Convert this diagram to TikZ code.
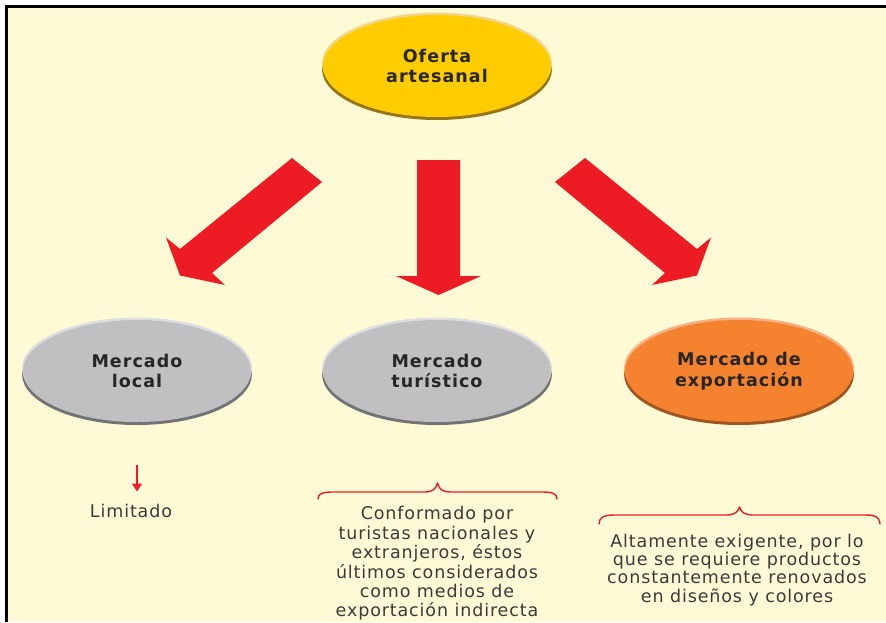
\documentclass[tikz,border=0pt]{standalone}
\usepackage{fontspec}
\setmainfont{DejaVu Sans}
\newfontfamily\lblfont{DejaVu Sans}[LetterSpace=5]
\newfontfamily\hdfont{DejaVu Sans}[LetterSpace=6]
\usetikzlibrary{shapes.geometric,arrows.meta}
\definecolor{cream}{RGB}{255,250,214}
\definecolor{arrowred}{RGB}{237,28,36}
\definecolor{gold}{RGB}{255,204,0}
\definecolor{goldhi}{RGB}{240,214,140}
\definecolor{goldlo}{RGB}{150,118,20}
\definecolor{greyfill}{RGB}{192,192,194}
\definecolor{greyhi}{RGB}{222,222,224}
\definecolor{greylo}{RGB}{115,115,118}
\definecolor{orangefill}{RGB}{245,130,47}
\definecolor{orangehi}{RGB}{248,176,130}
\definecolor{orangelo}{RGB}{160,84,32}
\definecolor{txtdark}{RGB}{38,38,38}
\definecolor{txtgrey}{RGB}{58,58,58}
\tikzset{
  bubble/.style={ellipse, minimum width=228pt, minimum height=102pt, inner sep=0pt,
    align=center, text=txtdark, font=\hdfont\bfseries\fontsize{17.5}{20.5}\selectfont},
  bodytext/.style={align=center, text=txtgrey, inner sep=0pt},
  bigarrow/.style={fill=arrowred},
  bracestyle/.style={draw=arrowred, line width=1.4pt, line cap=round, line join=round},
  smallarrow/.style={draw=arrowred, line width=1.3pt, -{Triangle[width=10pt,length=8pt]}}
}
\newcommand{\discrim}[4]{% x y hi lo
  \fill[#4] (#1,#2+3) ellipse [x radius=115, y radius=51];
  \fill[#3] (#1,#2-2.5) ellipse [x radius=115, y radius=51];
}
\begin{document}
\begin{tikzpicture}[x=1pt,y=-1pt]
\useasboundingbox (0,0) rectangle (886,622);
\fill[white] (0,0) rectangle (886,622);
\fill[cream] (6,6) rectangle (886,622);
\draw[line width=2.3pt] (6.6,622) -- (6.6,6.6) -- (886,6.6);

% discs
\discrim{437}{66}{goldhi}{goldlo}
\node[bubble, fill=gold] (oferta) at (437,66) {Oferta\\artesanal};

\discrim{137}{371}{greyhi}{greylo}
\node[bubble, fill=greyfill] (local) at (137,371) {Mercado\\local};

\discrim{437}{371}{greyhi}{greylo}
\node[bubble, fill=greyfill] (turistico) at (437,371) {Mercado\\turístico};

\discrim{739}{371}{orangehi}{orangelo}
\node[bubble, fill=orangefill] (export) at (739,371) {Mercado de\\exportación};

% big arrows
\fill[bigarrow] (292,158) -- (322,182) -- (212,273) -- (225,285) -- (180,275.5) -- (166,237.5) -- (180,249) -- cycle;
\fill[bigarrow] (417,160) -- (460,160) -- (460,276) -- (481,276) -- (438.5,295) -- (396,276) -- (417,276) -- cycle;
\fill[bigarrow] (585,158) -- (555,182) -- (665,273) -- (652,285) -- (697,275.5) -- (711,237.5) -- (697,249) -- cycle;

% small arrow and Limitado
\coordinate (sa) at (137,465);
\coordinate (sb) at (137,491.5);
\draw[smallarrow] (sa) -- (sb);
\node[bodytext, font=\lblfont\fontsize{17.5}{19.4}\selectfont] (limitado) at (131,511) {Limitado};

% braces
\draw[bracestyle] (318,499) .. controls (318,494) and (322,492) .. (332,492)
  -- (424,492) .. controls (432,492) and (436,489.5) .. (437.5,483)
  .. controls (439,489.5) and (443,492) .. (451,492)
  -- (543,492) .. controls (553,492) and (557,494) .. (557,499);
\draw[bracestyle] (599,524) .. controls (599,518) and (603,515) .. (614,515)
  -- (726,515) .. controls (734,515) and (738,512.5) .. (739.5,507)
  .. controls (741,512.5) and (745,515) .. (753,515)
  -- (866,515) .. controls (876,515) and (880,518) .. (880,524);

% descriptions
\node[bodytext, font=\lblfont\fontsize{17.5}{19.4}\selectfont] (desc2) at (437,563.5)
  {Conformado por\\turistas nacionales y\\extranjeros, éstos\\últimos considerados\\como medios de\\exportación indirecta};
\node[bodytext, font=\lblfont\fontsize{17.5}{18.2}\selectfont] (desc3) at (737,570)
  {Altamente exigente, por lo\\que se requiere productos\\constantemente renovados\\en diseños y colores};
\end{tikzpicture}
\end{document}
